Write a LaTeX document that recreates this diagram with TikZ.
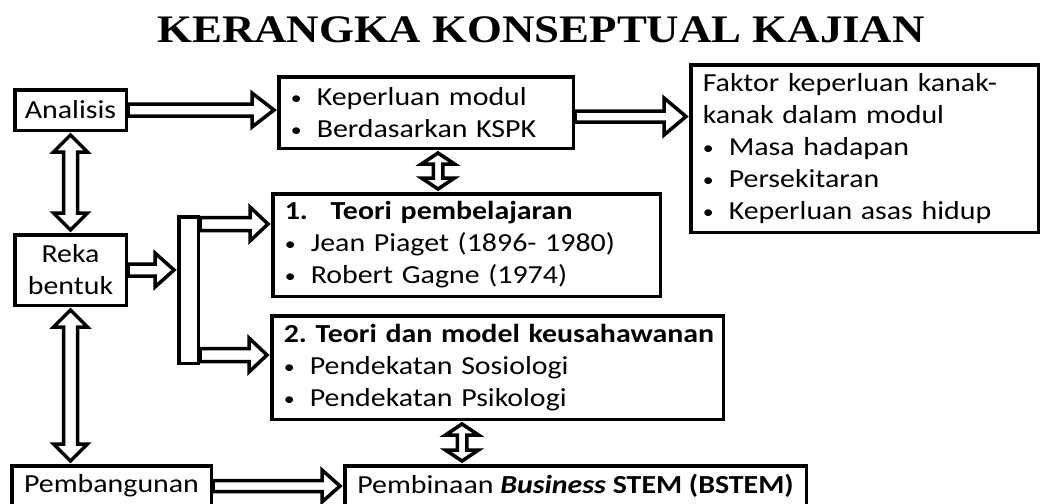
\documentclass[tikz,border=0pt]{standalone}
\usepackage{fontspec}
\setmainfont{Carlito}[FakeStretch=1.15]
\newfontfamily\titlefont{Liberation Serif}[FakeStretch=1.15]
\usetikzlibrary{calc}
\newcommand{\bul}[1]{\makebox[26pt][l]{\raisebox{1pt}{\fontsize{19}{19}\selectfont•}}#1}

\begin{document}
\begin{tikzpicture}[x=1pt, y=-1pt, >=stealth, anchor=north west]

    \tikzset{%
    box/.style={
        draw,
        line width=3.5pt,
        fill=white,
        inner xsep=12pt,
        inner ysep=0pt,
        font=\fontsize{26}{32}\selectfont
        },
    fat shaft/.code={\def\fatS{#1}},
    fat head/.code={\def\fatH{#1}},
    fat len/.code={\def\fatL{#1}},
    fat/.style={
        draw,
        line width=3.5pt,
        fill=white,
        line join=miter,
        fat shaft=6pt, fat head=17pt, fat len=22pt,
        to path={
            ($(\tikztostart)!\fatS!90:(\tikztotarget)$)
            -- ($(\tikztotarget)!\fatL!(\tikztostart)!\fatS!-90:(\tikztostart)$)
            -- ($(\tikztotarget)!\fatL!(\tikztostart)!\fatH!-90:(\tikztostart)$)
            -- ($(\tikztotarget)!3pt!(\tikztostart)$)
            -- ($(\tikztotarget)!\fatL!(\tikztostart)!\fatH!90:(\tikztostart)$)
            -- ($(\tikztotarget)!\fatL!(\tikztostart)!\fatS!90:(\tikztostart)$)
            -- ($(\tikztostart)!\fatS!-90:(\tikztotarget)$)
            -- cycle
            }
        },
    fatboth/.style={
        draw,
        line width=3.5pt,
        fill=white,
        line join=miter,
        fat shaft=7pt, fat head=17pt, fat len=20pt,
        to path={
            ($(\tikztostart)!3pt!(\tikztotarget)$)
            -- ($(\tikztostart)!\fatL!(\tikztotarget)!\fatH!90:(\tikztotarget)$)
            -- ($(\tikztostart)!\fatL!(\tikztotarget)!\fatS!90:(\tikztotarget)$)
            -- ($(\tikztotarget)!\fatL!(\tikztostart)!\fatS!-90:(\tikztostart)$)
            -- ($(\tikztotarget)!\fatL!(\tikztostart)!\fatH!-90:(\tikztostart)$)
            -- ($(\tikztotarget)!3pt!(\tikztostart)$)
            -- ($(\tikztotarget)!\fatL!(\tikztostart)!\fatH!90:(\tikztostart)$)
            -- ($(\tikztotarget)!\fatL!(\tikztostart)!\fatS!90:(\tikztostart)$)
            -- ($(\tikztostart)!\fatL!(\tikztotarget)!\fatS!-90:(\tikztotarget)$)
            -- ($(\tikztostart)!\fatL!(\tikztotarget)!\fatH!-90:(\tikztotarget)$)
            -- cycle
            }
        },
    }

    \useasboundingbox (0,0) rectangle (1043,503);
    \clip (0,0) rectangle (1043,503);

    % Title
    \node [anchor=base, font=\titlefont\bfseries\fontsize{39}{39}\selectfont] (title) at (541,43) {KERANGKA KONSEPTUAL KAJIAN};

    % Left column
    \node [box, inner xsep=4pt, minimum width=111.5pt, minimum height=40.5pt] (analisis) at (13,88) {Analisis};
    \node [box, inner xsep=4pt, align=center, minimum width=111.5pt, minimum height=70.5pt] (reka) at (13,233) {Reka\\bentuk};
    \node [box, minimum width=199.5pt, minimum height=40.5pt] (pembangunan) at (10,464) {Pembangunan};

    % Split bar after Reka bentuk
    \node [draw, line width=3.5pt, fill=white, inner sep=0pt, minimum width=19.5pt, minimum height=146.5pt] (split) at (177,215) {};

    % Content boxes
    \node [box, align=left, text width=270.5pt, minimum height=71.5pt] (keperluan) at (277,75)
        {\bul{Keperluan modul}\\\bul{Berdasarkan KSPK}};
    \node [box, align=left, text width=323.5pt, minimum height=167.5pt] (faktor) at (689,63)
        {Faktor keperluan kanak-\\kanak dalam modul\\\bul{Masa hadapan}\\\bul{Persekitaran}\\\bul{Keperluan asas hidup}};
    \node [box, align=left, text width=363.5pt, minimum height=102.5pt] (teori1) at (271,192)
        {\mbox{\bfseries\makebox[46pt][l]{1.}Teori pembelajaran}\\\bul{Jean Piaget (1896- 1980)}\\\bul{Robert Gagne (1974)}};
    \node [box, align=left, text width=427.5pt, minimum height=103.5pt] (teori2) at (270,314)
        {\mbox{\bfseries 2.\ Teori dan model keusahawanan}\\\bul{Pendekatan Sosiologi}\\\bul{Pendekatan Psikologi}};
    \node [box, minimum width=461.5pt, minimum height=40.5pt] (bstem) at (343,464)
        {Pembinaan \textbf{\textit{Business}} \textbf{STEM (BSTEM)}};

    % Helper points for offset arrows
    \coordinate (k-e) at ([yshift=-4pt]keperluan.east);
    \coordinate (k-s) at ([xshift=12pt]keperluan.south);
    \coordinate (t2-s) at ([xshift=-35.5pt]teori2.south);
    \coordinate (sp-up) at ([yshift=-9pt]split.north east);
    \coordinate (sp-dn) at ([yshift=10pt]split.south east);

    % Single fat arrows
    \draw [fat, fat len=25pt] (analisis.east) to (analisis.east -| keperluan.west);
    \draw [fat, fat shaft=5.5pt, fat head=18.5pt, fat len=25pt] (k-e) to (k-e -| faktor.west);
    \draw [fat] (reka.east) to (reka.east -| split.west);
    \draw [fat, fat shaft=6.5pt, fat len=21pt] (sp-up) to (sp-up -| teori1.west);
    \draw [fat, fat shaft=6.5pt, fat len=21pt] (sp-dn) to (sp-dn -| teori2.west);
    \draw [fat, fat shaft=5.5pt, fat head=16pt, fat len=21pt] (pembangunan.east) to (bstem.west);

    % Double fat arrows
    \draw [fatboth] (analisis.south) to (reka.north);
    \draw [fatboth] (reka.south) to (reka.south |- pembangunan.north);
    \draw [fatboth, fat shaft=4.75pt, fat head=16.5pt, fat len=14pt] (k-s) to (k-s |- teori1.north);
    \draw [fatboth, fat shaft=4.75pt, fat head=16.5pt, fat len=14pt] (t2-s) to (t2-s |- bstem.north);

\end{tikzpicture}
\end{document}
